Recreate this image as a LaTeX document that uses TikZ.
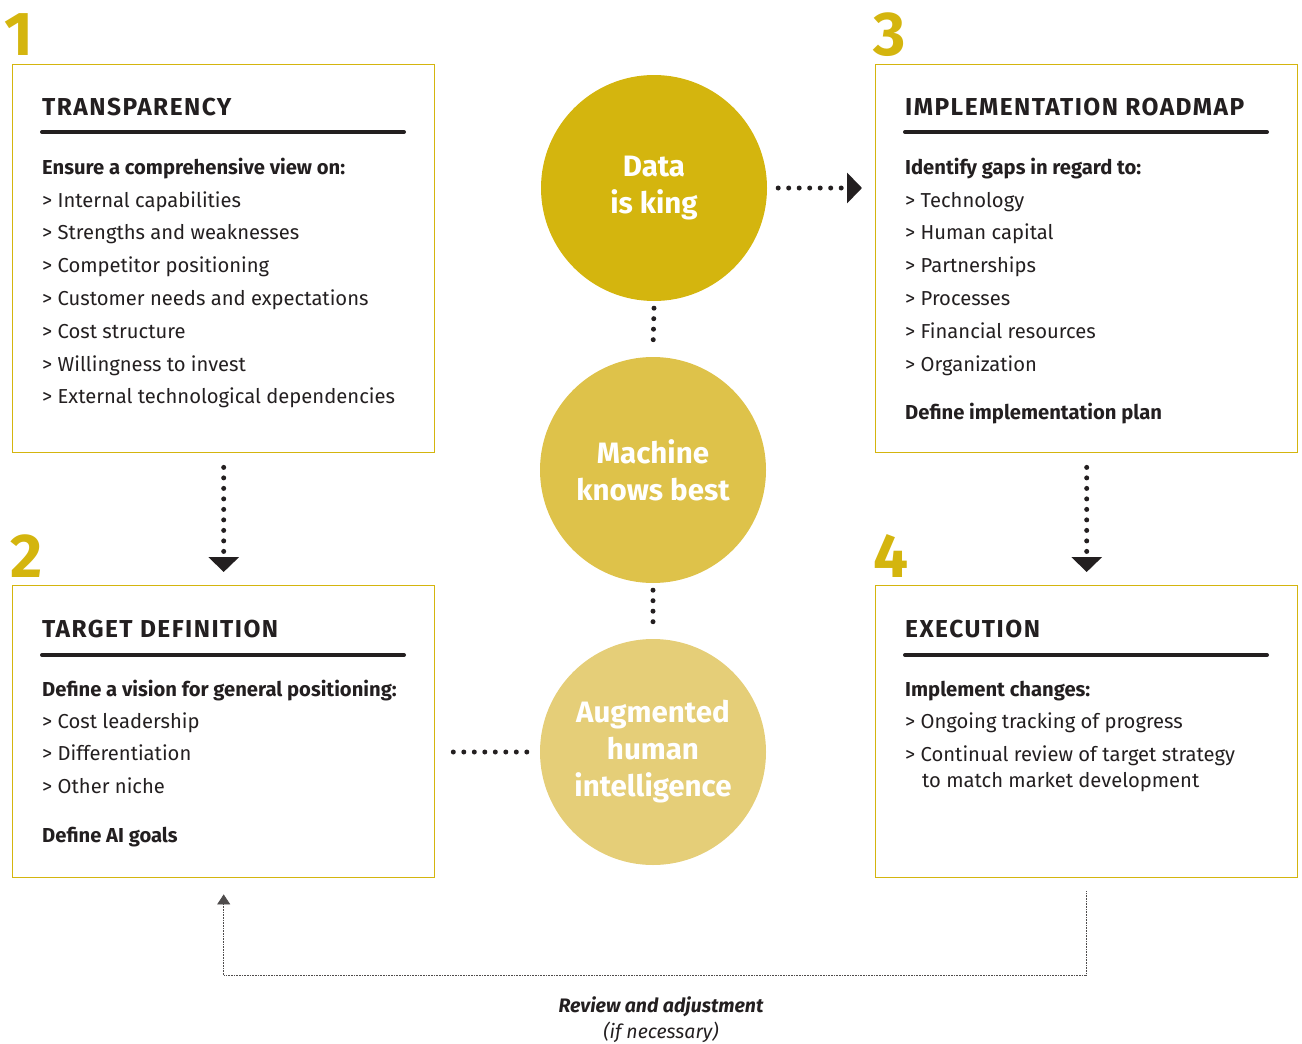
\documentclass[tikz,border=0pt]{standalone}
\usepackage{fontspec}
\setmainfont{Fira Sans}
\newfontfamily\headfont[LetterSpace=6]{Fira Sans}
\usetikzlibrary{arrows.meta}
\definecolor{mygold}{RGB}{212,181,14}
\definecolor{mygoldmid}{RGB}{222,194,74}
\definecolor{mygoldlight}{RGB}{229,206,120}
\definecolor{mydark}{RGB}{35,31,32}

\tikzset{
    box/.style={draw=mygold, line width=1.4pt, minimum width=422pt,
        minimum height=#1, anchor=north west, inner sep=0},
    num/.style={anchor=base west, inner sep=0, text=mygold,
        font=\fontsize{62}{62}\selectfont\bfseries},
    head/.style={anchor=base west, inner sep=0, text=mydark,
        font=\fontsize{24.5}{24}\selectfont\headfont\bfseries},
    lead/.style={anchor=base west, inner sep=0, text=mydark,
        font=\fontsize{20.2}{24}\selectfont\bfseries},
    listline/.style={anchor=base west, inner sep=0, text=mydark,
        font=\fontsize{20.2}{24}\selectfont},
    note/.style={anchor=base, inner sep=0, text=mydark,
        font=\fontsize{19.5}{24}\selectfont\itshape},
    rule/.style={mydark, line width=4pt, line cap=round},
    bubble/.style={circle, minimum size=226pt, inner sep=0, fill=#1,
        text=white, align=center, font=\fontsize{29.5}{37}\selectfont\bfseries},
    dots/.style={mydark, line width=5pt, line cap=round,
        dash pattern=on 0pt off 10.5pt},
    tip/.style={-{Triangle[width=30pt,length=15pt]}},
    loopline/.style={mydark!80, line width=0.8pt, dash pattern=on 0.8pt off 0.8pt,
        -{Triangle[width=13pt,length=10pt]}}
}

\begin{document}
\begin{tikzpicture}[x=1pt, y=-1pt]
    \useasboundingbox (0,0) rectangle (1302,1044);

    % -- the four step boxes with their numbers --
    \node[box=388pt] (b1) at (12,64)  {};
    \node[box=292pt] (b2) at (12,585) {};
    \node[box=388pt] (b3) at (875,64) {};
    \node[box=292pt] (b4) at (875,585) {};
    \node[num] (n1) at (4,55)   {1};
    \node[num] (n2) at (10,577) {2};
    \node[num] (n3) at (873,55) {3};
    \node[num] (n4) at (873,577) {4};

    % -- box 1: transparency --
    \node[head] (h1) at (42,115) {TRANSPARENCY};
    \draw[rule] (42,132) -- (404,132);
    \node[lead] (l1) at (42,174) {Ensure a comprehensive view on:};
    \foreach \txt [count=\i] in {Internal capabilities, Strengths and weaknesses,
        Competitor positioning, Customer needs and expectations, Cost structure,
        Willingness to invest, External technological dependencies}
        \node[listline] (t1-\i) at (42,{207+32.8*(\i-1)}) {> \txt};

    % -- box 2: target definition --
    \node[head] (h2) at (42,637) {TARGET DEFINITION};
    \draw[rule] (42,655) -- (404,655);
    \node[lead] (l2) at (42,696) {Define a vision for general positioning:};
    \foreach \txt [count=\i] in {Cost leadership, Differentiation, Other niche}
        \node[listline] (t2-\i) at (42,{728+32.8*(\i-1)}) {> \txt};
    \node[lead] (e2) at (42,842) {Define AI goals};

    % -- box 3: implementation roadmap --
    \node[head] (h3) at (905,115) {IMPLEMENTATION ROADMAP};
    \draw[rule] (905,132) -- (1267,132);
    \node[lead] (l3) at (905,174) {Identify gaps in regard to:};
    \foreach \txt [count=\i] in {Technology, Human capital, Partnerships,
        Processes, Financial resources, Organization}
        \node[listline] (t3-\i) at (905,{207+32.8*(\i-1)}) {> \txt};
    \node[lead] (e3) at (905,419) {Define implementation plan};

    % -- box 4: execution --
    \node[head] (h4) at (905,637) {EXECUTION};
    \draw[rule] (905,655) -- (1267,655);
    \node[lead] (l4) at (905,696) {Implement changes:};
    \node[listline] (t4-1) at (905,728) {> Ongoing tracking of progress};
    \node[listline] (t4-2) at (905,761) {> Continual review of target strategy};
    \node[listline] (t4-3) at (922,787) {to match market development};

    % -- the three circles in the middle --
    \node[bubble=mygold]      (c1) at (654,188) {Data\\is king};
    \node[bubble=mygoldmid]   (c2) at (653,470) {Machine\\knows best};
    \node[bubble=mygoldlight] (c3) at (653,752) {Augmented\\human\\intelligence};

    % -- dotted links --
    \draw[dots] ([yshift=-7pt]c1.south) -- ([yshift=7pt]c2.north);
    \draw[dots] ([yshift=-7pt]c2.south) -- ([yshift=7pt]c3.north);
    \draw[dots] ([xshift=-13pt]c3.west) -- ([xshift=13pt]c3.west -| b2.east);
    \draw[dots, tip] ([xshift=11pt]c1.east) -- ([xshift=-13pt]c1.east -| b3.west);
    \draw[dots, tip] ([yshift=-14pt]b1.south) -- ([yshift=13pt]b2.north);
    \draw[dots, tip] ([yshift=-14pt]b3.south) -- ([yshift=13pt]b4.north);

    % -- feedback loop from execution back to target definition --
    \draw[loopline] ([yshift=-13pt]b4.south) -- ([yshift=-97pt]b4.south)
        -- ([yshift=-97pt]b2.south) -- ([yshift=-16pt]b2.south);
    \node[note] (fb1) at (661,1012) {\bfseries Review and adjustment};
    \node[note] (fb2) at (661,1038) {(if necessary)};
\end{tikzpicture}
\end{document}
